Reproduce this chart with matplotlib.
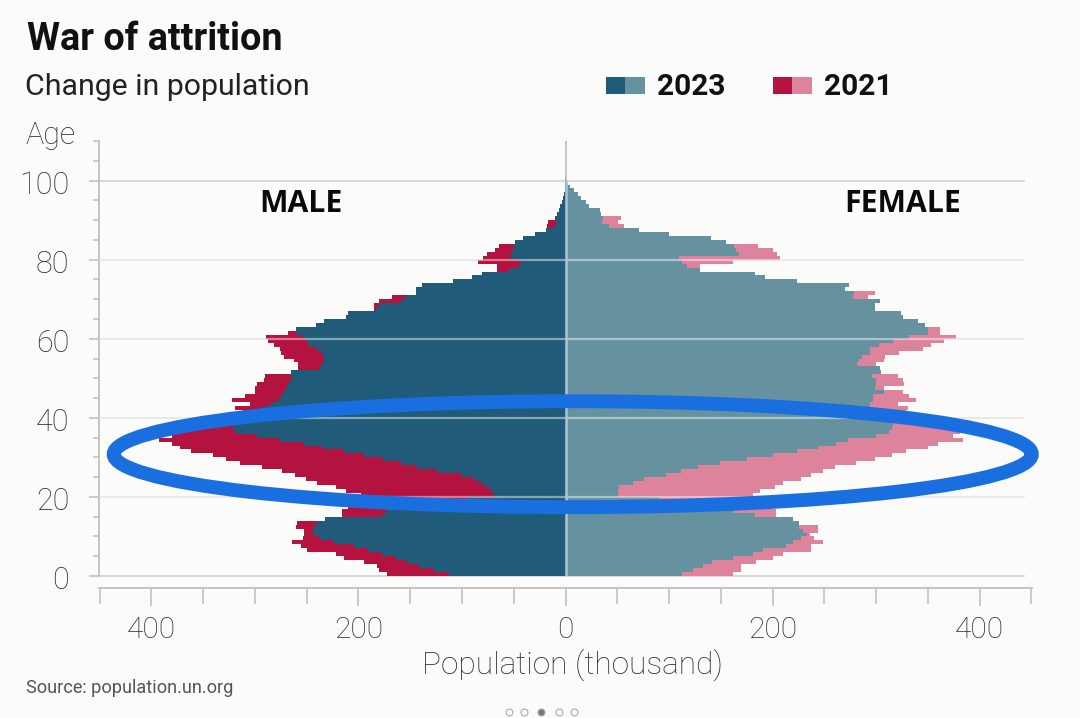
import matplotlib
matplotlib.use("Agg")
import matplotlib.pyplot as plt
from matplotlib.patches import Ellipse, Rectangle
from matplotlib.transforms import ScaledTranslation

ages = list(range(101))

male_2023 = [113,127,142,153,164,177,191,204,224,237,243,244,243,240,232,176,172,150,125,95,
             69,71,76,82,88,101,124,143,159,176,195,214,234,253,276,298,318,322,318,312,
             306,300,292,285,278,275,272,270,268,265,265,265,237,235,233,233,235,240,248,250,
             254,260,260,241,233,212,210,183,180,159,154,144,144,139,109,90,81,55,45,43,
             53,53,51,50,49,41,29,19,10,9,9,8,6.5,5,3.5,2.6,1.6,0.8,0.5,0.2,0.1]
male_2021 = [172,180,182,195,214,222,250,256,264,254,253,253,260,259,232,216,216,210,206,201,
             198,212,222,240,251,261,274,293,314,328,341,362,372,380,393,380,372,355,340,325,
             315,312,319,305,322,310,300,300,298,291,290,265,258,258,262,272,275,276,282,287,
             289,268,260,241,233,212,210,185,185,180,168,144,144,139,109,90,81,66,66,85,
             80,76,68,64,49,41,29,19,18,17,10,8,6.5,5,3.5,2.6,1.6,0.8,0.5,0.2,0.1]
female_2023 = [113,123,133,142,162,181,191,213,220,228,233,229,226,226,220,183,162,150,115,90,
               51,51,52,65,76,97,112,128,149,175,200,224,244,261,273,300,313,315,316,311,
               308,300,294,294,297,297,308,299,300,300,296,305,304,282,284,286,294,294,303,316,
               332,350,350,347,341,326,324,299,299,304,278,279,270,274,224,193,183,130,117,113,
               110,168,165,163,155,141,100,71,42,35,36,34,33,23,20,15,12,8,4,0.6,0.1]
female_2021 = [162,170,170,184,200,210,237,237,249,240,236,244,244,226,220,203,203,194,187,184,
               181,188,202,210,228,237,249,260,281,299,315,329,350,360,384,374,381,381,345,329,
               329,329,331,321,339,332,326,308,327,326,321,305,304,300,308,309,322,345,353,366,
               377,362,362,347,341,326,324,299,299,304,292,299,270,274,224,193,183,130,130,162,
               207,204,200,186,155,141,100,71,57,51,54,34,33,23,20,15,12,8,4,0.6,0.1]

x_major = [-400, -200, 0, 200, 400]
x_minor = [-450, -350, -300, -250, -150, -100, -50, 50, 100, 150, 250, 300, 350, 450]
x_labels = ["400", "200", "0", "200", "400"]
y_major = [0, 20, 40, 60, 80, 100]
y_minor = [a for a in range(5, 111, 5) if a % 20]

W, H = 1080, 718
BG = "#fbfbf9"
GREY = "#2e2e2e"
C_M23, C_F23, C_M21, C_F21 = "#205c79", "#66919f", "#b4123f", "#de839c"

plt.rcParams["font.family"] = ["Roboto", "DejaVu Sans"]
fig = plt.figure(figsize=(W / 100, H / 100), dpi=100, facecolor=BG)

def px(x, y):
    return x / W, 1 - y / H

L, R, T, B = 99, 1032, 141, 576
ax = fig.add_axes([L / W, 1 - B / H, (R - L) / W, (B - T) / H])
ax.set_facecolor("none")
ax.set_xlim(-450.7, 450.7)
ax.set_ylim(0, 110)
for s in ax.spines.values():
    s.set_visible(False)

for a in y_major:
    ax.plot([-450.7, 443], [a, a], color="#d4d4d0", lw=1.3, zorder=1, clip_on=False)

h = 1.0
ax.barh(ages, [-v for v in male_2021], height=h, align="edge", color=C_M21, lw=0, zorder=2)
ax.barh(ages, female_2021, height=h, align="edge", color=C_F21, lw=0, zorder=2)
ax.barh(ages, [-v for v in male_2023], height=h, align="edge", color=C_M23, lw=0, zorder=3)
ax.barh(ages, female_2023, height=h, align="edge", color=C_F23, lw=0, zorder=3)

for a in y_major[1:-1]:
    ax.plot([-450.7, 443], [a, a], color="white", alpha=0.45, lw=1.6, zorder=4)
ax.plot([0.5, 0.5], [0, 100], color="#a8c6d4", lw=1.8, zorder=4)
ax.plot([0.5, 0.5], [100, 110], color="#bdbdb8", lw=1.2, zorder=4)

ax.add_patch(Ellipse((7, 30.8), 887, 26.8, fill=False, ec="#1a6fe0", lw=10, zorder=6, clip_on=False))

# left axis
ax.plot([-450.7, -450.7], [0, 110], color="#bdbdb8", lw=1.2, clip_on=False, zorder=1)
ax.set_yticks(y_major)
ax.set_yticklabels([str(v) for v in y_major], fontsize=22, color=GREY, fontweight="light")
ax.set_yticks(y_minor, minor=True)
ax.tick_params(axis="y", which="major", length=7, width=1.1, color="#bdbdb8", pad=14.5)
ax.tick_params(axis="y", which="minor", length=4.3, width=1.1, color="#bdbdb8")
shift = ScaledTranslation(0, -1.2 / 72, fig.dpi_scale_trans)
for lab in ax.get_yticklabels():
    lab.set_transform(lab.get_transform() + shift)

# bottom axis, set apart from the plot
ax.spines["bottom"].set_visible(True)
ax.spines["bottom"].set_position(("outward", 8.5))
ax.spines["bottom"].set_color("#bdbdb8")
ax.spines["bottom"].set_linewidth(1.2)
ax.set_xticks(x_major)
ax.set_xticklabels(x_labels, fontsize=21.5, color=GREY, fontweight="light")
ax.set_xticks(x_minor, minor=True)
ax.tick_params(axis="x", which="major", length=13, width=1.1, color="#bdbdb8", pad=7.5)
ax.tick_params(axis="x", which="minor", length=11.5, width=1.1, color="#bdbdb8")

def t(x, y, s, **k):
    fx, fy = px(x, y)
    fig.text(fx, fy, s, va="center", **k)

t(27, 40, "War of attrition", fontsize=27.2, fontweight="bold", color="#111111")
t(25, 87, "Change in population", fontsize=21.8, color="#222222")
t(657, 87, "2023", fontsize=21.5, fontweight="bold", color="#111111")
t(824, 87, "2021", fontsize=21.5, fontweight="bold", color="#111111")
t(25, 136, "Age", fontsize=22, color=GREY, fontweight="light")
t(301, 204, "MALE", fontsize=21.7, fontweight="bold", color="#0a0a0a", ha="center", family="Open Sans")
t(903, 204, "FEMALE", fontsize=21.7, fontweight="bold", color="#0a0a0a", ha="center", family="Open Sans")
t(573, 665, "Population (thousand)", fontsize=22.8, color=GREY, ha="center", fontweight="light")
t(26, 688, "Source: population.un.org", fontsize=13.05, color="#555555")

for x0, x1, col in [(606, 625, C_M23), (625, 645, C_F23), (773, 792, C_M21), (792, 812, C_F21)]:
    fx, fy = px(x0, 94)
    fig.add_artist(Rectangle((fx, fy), (x1 - x0) / W, 17 / H, transform=fig.transFigure, fc=col, ec="none"))

for x, col in [(509, "none"), (524, "none"), (541, "#777777"), (559, "none"), (574, "none")]:
    fx, fy = px(x, 712)
    ax.plot([fx], [fy], marker="o", ms=5, mfc=col, mec="#aaaaaa", mew=0.8,
            transform=fig.transFigure, clip_on=False, zorder=7)

fig.savefig("out.png", dpi=100, facecolor=BG)
